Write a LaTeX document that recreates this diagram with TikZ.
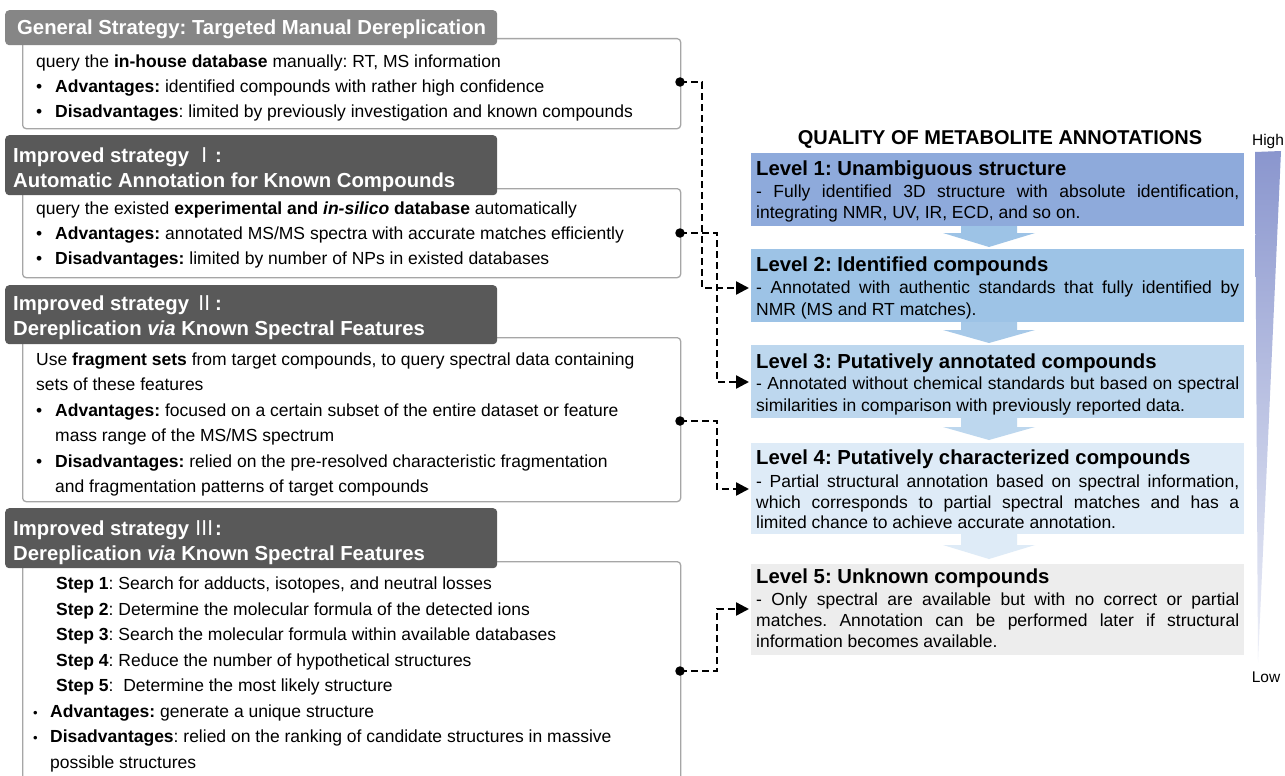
\documentclass[tikz,border=0pt]{standalone}
\usepackage{fontspec}
\usepackage{graphicx}
\setmainfont{Liberation Sans}
\newfontfamily\numfont{Noto Sans CJK SC}
\usetikzlibrary{arrows.meta,calc}

\definecolor{hdrlight}{HTML}{868686}
\definecolor{hdrdark}{HTML}{595959}
\definecolor{boxline}{HTML}{A6A6A6}
\definecolor{lvA}{HTML}{8EAADB}
\definecolor{lvB}{HTML}{9DC3E6}
\definecolor{lvC}{HTML}{BDD7EE}
\definecolor{lvD}{HTML}{DEEBF7}
\definecolor{lvE}{HTML}{EDEDED}
\definecolor{wedgetop}{HTML}{8A96CE}
\definecolor{wedgebot}{HTML}{EEF0F8}

\hyphenpenalty=10000
\exhyphenpenalty=10000
\frenchspacing

% bullet of a given box width
\newcommand\bul[1]{\makebox[#1][l]{•}}
\newcommand\sbul[1]{\makebox[#1][l]{\scalebox{0.75}{•}}}
% roman numeral in a CJK face
\newcommand\rnum[1]{{\numfont\mdseries #1}}
% wide downward arrow between two quality levels
\newcommand\chevron[4]{%
  \fill[#4] (961,#1) -- (1017,#1) -- (1017,#2) -- (1035,#2) -- (989,#3)
    -- (943,#2) -- (961,#2) -- cycle;}

\begin{document}
\begin{tikzpicture}[x=1pt,y=-1pt,
  hdrbox/.style={rectangle, rounded corners=4pt, inner sep=0pt, anchor=north west,
    minimum width=492pt},
  bodybox/.style={rectangle, draw=boxline, line width=1.3pt, rounded corners=3.5pt,
    fill=white, inner sep=0pt, anchor=north west, minimum width=658pt},
  hdrtext/.style={anchor=base west, inner sep=0pt, text=white},
  bodytext/.style={anchor=base west, inner sep=0pt},
  lvbox/.style={rectangle, inner sep=0pt, anchor=north west, minimum width=493pt},
  lvtitle/.style={anchor=base west, inner sep=0pt,
    font=\fontsize{20.3}{24}\selectfont\bfseries},
  lvtext/.style={anchor=base west, inner sep=0pt},
  dotnode/.style={circle, fill=black, inner sep=0pt, minimum size=9.5pt},
  conn/.style={draw=black, line width=2.4pt, dash pattern=on 7pt off 4pt,
    -{Triangle[length=13pt,width=13pt]}},
]
\useasboundingbox (0,0) rectangle (1285,776);
\fill[white] (0,0) rectangle (1285,776);
\clip (0,0) rectangle (1285,776);

% ---------------- left column: strategy boxes ----------------
\node[bodybox, minimum height=90pt] (b1) at (22,38) {};
\node[hdrbox, fill=hdrlight, minimum height=35pt] (h1) at (5,10) {};
\node[hdrtext] (h1t) at (17,34.5)
  {\fontsize{20.3}{25}\selectfont\bfseries General Strategy: Targeted Manual Dereplication};
\node[bodytext] (t1) at (36,67.5) {\parbox[t]{635pt}{\fontsize{17.5}{25}\selectfont
  query the \textbf{in-house database} manually: RT, MS information\\
  \bul{19pt}\textbf{Advantages:} identified compounds with rather high confidence\\
  \bul{19pt}\textbf{Disadvantages}: limited by previously investigation and known compounds}};

\node[bodybox, minimum height=89pt] (b2) at (22,188) {};
\node[hdrbox, fill=hdrdark, minimum height=60pt] (h2) at (5,135) {};
\node[hdrtext] (h2t) at (13,162) {\parbox[t]{480pt}{\fontsize{20.3}{25}\selectfont\bfseries
  Improved strategy \rnum{Ⅰ}:\\
  Automatic Annotation for Known Compounds}};
\node[bodytext] (t2) at (36,214.5) {\parbox[t]{635pt}{\fontsize{17.5}{25}\selectfont
  query the existed \textbf{experimental and \textit{in-silico} database} automatically\\
  \bul{19pt}\textbf{Advantages:} annotated MS/MS spectra with accurate matches efficiently\\
  \bul{19pt}\textbf{Disadvantages:} limited by number of NPs in existed databases}};

\node[bodybox, minimum height=164pt] (b3) at (22,337) {};
\node[hdrbox, fill=hdrdark, minimum height=59pt] (h3) at (5,285) {};
\node[hdrtext] (h3t) at (13,310) {\parbox[t]{480pt}{\fontsize{20.3}{25.5}\selectfont\bfseries
  Improved strategy \rnum{Ⅱ}:\\
  Dereplication \textit{via} Known Spectral Features}};
\node[bodytext] (t3) at (36,365.5) {\parbox[t]{635pt}{\fontsize{17.5}{25.4}\selectfont
  Use \textbf{fragment sets} from target compounds, to query spectral data containing\\
  sets of these features\\
  \bul{19pt}\textbf{Advantages:} focused on a certain subset of the entire dataset or feature\\
  \hspace*{19pt}mass range of the MS/MS spectrum\\
  \bul{19pt}\textbf{Disadvantages:} relied on the pre-resolved characteristic fragmentation\\
  \hspace*{19pt}and fragmentation patterns of target compounds}};

\node[bodybox, minimum height=260pt] (b4) at (22,561) {};
\node[hdrbox, fill=hdrdark, minimum height=60pt] (h4) at (5,508) {};
\node[hdrtext] (h4t) at (13,535) {\parbox[t]{480pt}{\fontsize{20.3}{25}\selectfont\bfseries
  Improved strategy \rnum{Ⅲ}:\\
  Dereplication \textit{via} Known Spectral Features}};
\node[bodytext] (t4) at (33,589.5) {\parbox[t]{640pt}{\fontsize{17.5}{25.5}\selectfont
  \hspace*{23pt}\textbf{Step 1}: Search for adducts, isotopes, and neutral losses\\
  \hspace*{23pt}\textbf{Step 2}: Determine the molecular formula of the detected ions\\
  \hspace*{23pt}\textbf{Step 3}: Search the molecular formula within available databases\\
  \hspace*{23pt}\textbf{Step 4}: Reduce the number of hypothetical structures\\
  \hspace*{23pt}\textbf{Step 5}:\ \ Determine the most likely structure\\
  \sbul{17pt}\textbf{Advantages:} generate a unique structure\\
  \sbul{17pt}\textbf{Disadvantages}: relied on the ranking of candidate structures in massive\\
  \hspace*{17pt}possible structures}};

% ---------------- right column: annotation levels ----------------
\node[anchor=base, inner sep=0pt, font=\fontsize{20}{24}\selectfont\bfseries] (qt)
  at (1000,144) {QUALITY OF METABOLITE ANNOTATIONS};

\node[lvbox, fill=lvA, minimum height=73pt] (L1) at (751,153) {};
\node[lvbox, fill=lvB, minimum height=73pt] (L2) at (751,249) {};
\node[lvbox, fill=lvC, minimum height=73pt] (L3) at (751,345) {};
\node[lvbox, fill=lvD, minimum height=91pt] (L4) at (751,443) {};
\node[lvbox, fill=lvE, minimum height=91pt] (L5) at (751,564) {};

\chevron{226}{233}{247}{lvB}
\chevron{322}{330}{343}{lvB!70!lvC}
\chevron{418}{427}{440}{lvC}
\chevron{534}{545}{559}{lvD}

\node[lvtitle] (L1t) at (756,175.5) {Level 1: Unambiguous structure};
\node[lvtext] (L1b) at (756,197.5) {\parbox[t]{483pt}{\fontsize{17.5}{21}\selectfont
  - Fully identified 3D structure with absolute identification,\linebreak
  integrating NMR, UV, IR, ECD, and so on.}};

\node[lvtitle] (L2t) at (756,271.5) {Level 2: Identified compounds};
\node[lvtext] (L2b) at (756,293.5) {\parbox[t]{483pt}{\fontsize{17.5}{21.5}\selectfont
  - Annotated with authentic standards that fully identified by\linebreak
  NMR (MS and RT matches).}};

\node[lvtitle] (L3t) at (756,368.5) {Level 3: Putatively annotated compounds};
\node[lvtext] (L3b) at (756,389) {\parbox[t]{483pt}{\fontsize{17.5}{22}\selectfont
  - Annotated without chemical standards but based on spectral\linebreak
  similarities in comparison with previously reported data.}};

\node[lvtitle] (L4t) at (756,464) {Level 4: Putatively characterized compounds};
\node[lvtext] (L4b) at (756,487.5) {\parbox[t]{483pt}{\fontsize{17.5}{20.7}\selectfont
  - Partial structural annotation based on spectral information,\linebreak
  which corresponds to partial spectral matches and has a\linebreak
  limited chance to achieve accurate annotation.}};

\node[lvtitle] (L5t) at (756,583.5) {Level 5: Unknown compounds};
\node[lvtext] (L5b) at (756,605.5) {\parbox[t]{483pt}{\fontsize{17.5}{21}\selectfont
  - Only spectral are available but with no correct or partial\linebreak
  matches. Annotation can be performed later if structural\linebreak
  information becomes available.}};

% confidence scale
\shade[top color=wedgetop, bottom color=wedgebot]
  (1255,152) -- (1281,151) -- (1258,662) -- cycle;
\node[inner sep=0pt, font=\fontsize{15.5}{18}\selectfont] (hi) at (1268,141) {High};
\node[inner sep=0pt, font=\fontsize{15.5}{18}\selectfont] (lo) at (1266,677) {Low};

% ---------------- connectors ----------------
\node[dotnode] (d1) at (680,82) {};
\node[dotnode] (d2) at (680,233) {};
\node[dotnode] (d3) at (680,421) {};
\node[dotnode] (d4) at (680,671) {};
\coordinate (a2) at (749,288);
\coordinate (a3) at (749,382);
\coordinate (a4) at (749,489);
\coordinate (a5) at (749,609);

\draw[conn] (d1.center) -| ($(a2)+(-47,0)$) -- (a2);
\draw[conn] (d2.center) -| ($(a3)+(-32,0)$) -- (a3);
\draw[conn] (d3.center) -| ($(a4)+(-32,0)$) -- (a4);
\draw[conn] (d4.center) -| ($(a5)+(-32,0)$) -- (a5);
\end{tikzpicture}
\end{document}
